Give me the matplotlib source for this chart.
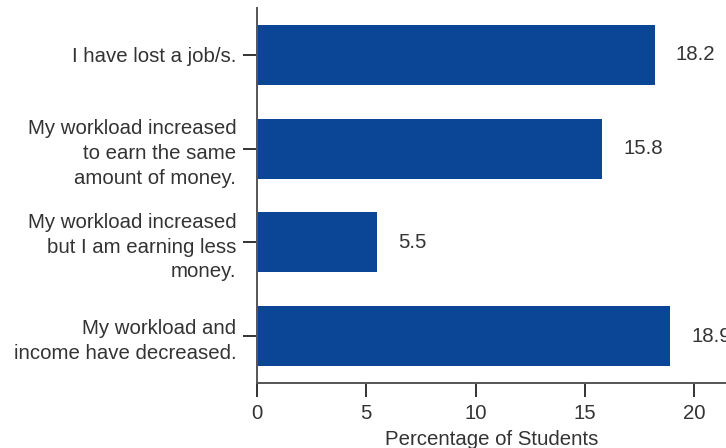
import matplotlib
matplotlib.use("Agg")
import matplotlib.pyplot as plt
import matplotlib.transforms as mtransforms

categories = [
    "I have lost a job/s.",
    "My workload increased\nto earn the same\namount of money.",
    "My workload increased\nbut I am earning less\nmoney.",
    "My workload and\nincome have decreased.",
]
values = [18.2, 15.8, 5.5, 18.9]
xticks = [0, 5, 10, 15, 20]

plt.rcParams['font.family'] = ['Liberation Sans', 'DejaVu Sans']
text_color = "#333333"
bar_color = "#0b4596"
fs = 14.7

W, H = 726, 448
fig = plt.figure(figsize=(W / 100, H / 100), dpi=100)
left, right, top, bottom = 257, 726, 8, 383
ax = fig.add_axes([left / W, (H - bottom) / H, (right - left) / W, (bottom - top) / H])

ypos = list(range(len(categories)))
ax.barh(ypos, values, height=0.64, color=bar_color)
ax.set_ylim(len(categories) - 0.5, -0.5)
ax.set_xlim(0, 21.45)
ax.set_yticks(ypos)
ax.set_yticklabels(categories, fontsize=fs, color=text_color, linespacing=1.38)
ax.set_xticks(xticks)
ax.set_xticklabels([str(t) for t in xticks], fontsize=fs, color=text_color)
ax.set_xlabel("Percentage of Students", fontsize=fs, color=text_color, labelpad=5)

# nudge the "0" label slightly right as in the reference
lbl0 = ax.get_xticklabels()[0]
lbl0.set_transform(lbl0.get_transform() + mtransforms.ScaledTranslation(5 / 100, 0, fig.dpi_scale_trans))

for s in ["top", "right"]:
    ax.spines[s].set_visible(False)
for s in ["left", "bottom"]:
    ax.spines[s].set_color("#555555")
    ax.spines[s].set_linewidth(1.4)
ax.tick_params(axis="both", length=10, width=1.4, color="#333333", pad=5)

for y, v in zip(ypos, values):
    ax.text(v + 0.95, y, f"{v}", va="center", ha="left", fontsize=fs, color=text_color, clip_on=False)

fig.savefig("out.png", dpi=100)
